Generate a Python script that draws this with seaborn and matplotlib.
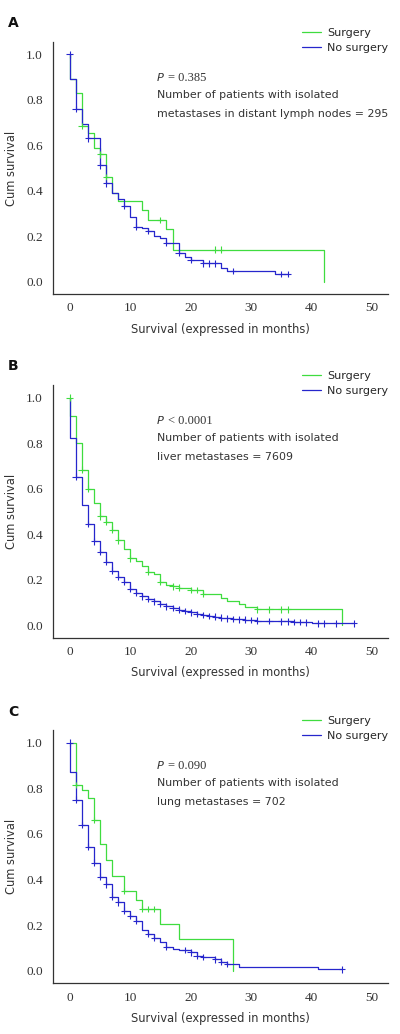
import numpy as np
import pandas as pd
import matplotlib
matplotlib.use("Agg")
import matplotlib.pyplot as plt
import seaborn as sns

# ---------------- data ----------------
panel_letters = ["A", "B", "C"]
groups = ["Surgery", "No surgery"]
p_texts = ["= 0.385", "< 0.0001", "= 0.090"]
n_line1 = ["Number of patients with isolated"] * 3
n_line2 = ["metastases in distant lymph nodes = 295",
           "liver metastases = 7609",
           "lung metastases = 702"]
x_ticks = [0, 10, 20, 30, 40, 50]
y_ticks = [0.0, 0.2, 0.4, 0.6, 0.8, 1.0]

# Panel A
a_surg_t = [0, 1, 2, 3, 4, 5, 6, 7, 8, 12, 13, 16, 17, 42]
a_surg_s = [0.89, 0.83, 0.685, 0.655, 0.59, 0.56, 0.46, 0.39, 0.355, 0.315, 0.27, 0.232, 0.14, 0.0]
a_surg_c = [2, 5, 6, 15, 24, 25]
a_nosu_t = [0, 1, 2, 3, 5, 6, 7, 8, 9, 10, 11, 12, 13, 14, 15, 16, 18, 19, 20, 22, 25, 26, 34]
a_nosu_s = [0.89, 0.76, 0.695, 0.63, 0.512, 0.432, 0.388, 0.362, 0.332, 0.285, 0.242, 0.234, 0.222, 0.2, 0.19, 0.17,
            0.127, 0.11, 0.095, 0.08, 0.06, 0.046, 0.033]
a_nosu_c = [0, 1, 3, 5, 6, 9, 11, 13, 16, 18, 20, 22, 23, 24, 27, 35, 36]

# Panel B
b_surg_t = [0, 1, 2, 3, 4, 5, 6, 7, 8, 9, 10, 11, 12, 13, 14, 15, 16, 17, 18, 20, 22, 25, 26, 28, 29, 31, 45]
b_surg_s = [0.92, 0.80, 0.683, 0.60, 0.535, 0.478, 0.455, 0.42, 0.373, 0.335, 0.293, 0.283, 0.26, 0.235, 0.225,
            0.19, 0.175, 0.17, 0.165, 0.155, 0.138, 0.118, 0.106, 0.095, 0.078, 0.07, 0.0]
b_surg_c = [0, 2, 3, 5, 6, 7, 8, 10, 13, 15, 17, 18, 20, 21, 22, 31, 33, 35, 36]
b_nosu_t = [0, 1, 2, 3, 4, 5, 6, 7, 8, 9, 10, 11, 12, 13, 14, 15, 16, 17, 18, 19, 20, 21, 22, 23, 24, 25, 26,
            27, 28, 29, 30, 31, 33, 35, 37, 39, 40]
b_nosu_s = [0.822, 0.652, 0.53, 0.444, 0.368, 0.321, 0.277, 0.24, 0.212, 0.19, 0.16, 0.142, 0.126, 0.115, 0.105,
            0.092, 0.083, 0.076, 0.068, 0.062, 0.056, 0.05, 0.045, 0.04, 0.037, 0.033, 0.03, 0.027, 0.025, 0.024,
            0.022, 0.02, 0.019, 0.017, 0.015, 0.012, 0.008]
b_nosu_c = [1, 3, 4, 5, 6, 7, 8, 9, 10, 11, 12, 13, 14, 15, 16, 17, 18, 19, 20, 21, 22, 23, 24, 25, 26, 27, 28,
            29, 30, 31, 33, 35, 36, 37, 38, 39, 41, 42, 44, 47]

# Panel C
c_surg_t = [1, 2, 3, 4, 5, 6, 7, 9, 11, 12, 15, 18, 27]
c_surg_s = [0.815, 0.79, 0.757, 0.66, 0.555, 0.485, 0.415, 0.35, 0.31, 0.27, 0.205, 0.137, 0.0]
c_surg_c = [1, 4, 9, 12, 13, 14]
c_nosu_t = [0, 1, 2, 3, 4, 5, 6, 7, 8, 9, 10, 11, 12, 13, 14, 15, 16, 17, 18, 20, 21, 22, 24, 25, 26, 28, 35, 41]
c_nosu_s = [0.87, 0.75, 0.638, 0.544, 0.474, 0.412, 0.379, 0.325, 0.30, 0.263, 0.24, 0.22, 0.18, 0.16, 0.145,
            0.125, 0.105, 0.095, 0.09, 0.08, 0.066, 0.06, 0.05, 0.04, 0.03, 0.018, 0.015, 0.006]
c_nosu_c = [0, 1, 2, 3, 4, 5, 6, 7, 8, 9, 10, 11, 13, 14, 16, 19, 20, 21, 22, 24, 25, 26, 45]

panels = [
    ((a_surg_t, a_surg_s, a_surg_c), (a_nosu_t, a_nosu_s, a_nosu_c)),
    ((b_surg_t, b_surg_s, b_surg_c), (b_nosu_t, b_nosu_s, b_nosu_c)),
    ((c_surg_t, c_surg_s, c_surg_c), (c_nosu_t, c_nosu_s, c_nosu_c)),
]

colors = {"Surgery": "#3fdc3f", "No surgery": "#2626cc"}


def surv_at(t, times, levels):
    times = np.asarray(times)
    levels = np.asarray(levels)
    if t == 0:
        idx = np.searchsorted(times, t, side="left")
    else:
        idx = np.searchsorted(times, t, side="right")
    return 1.0 if idx == 0 else levels[idx - 1]


def build_frames(group_data):
    lines, marks = [], []
    for name, (t, s, c) in zip(groups, group_data):
        end = max(max(t), max(c))
        xs = [0] + list(t) + [end]
        ys = [1.0] + list(s) + [s[-1]]
        lines.append(pd.DataFrame({"t": xs, "s": ys, "group": name}))
        marks.append(pd.DataFrame({"t": c, "s": [surv_at(v, t, s) for v in c], "group": name}))
    return pd.concat(lines, ignore_index=True), pd.concat(marks, ignore_index=True)


# ---------------- figure ----------------
sns.set_theme(style="white")
plt.rcParams["font.family"] = ["DejaVu Sans"]

fig = plt.figure(figsize=(4.0, 10.34), dpi=100)
W, H = 400, 1034
boxes = [(52.7, 42, 388, 294), (52.7, 385, 388, 637.7), (52.7, 730, 388, 983.3)]
letter_y = [23, 366, 712]

serif = "Liberation Serif"
for i, (box, gdata) in enumerate(zip(boxes, panels)):
    l, t, r, b = box
    ax = fig.add_axes([l / W, 1 - b / H, (r - l) / W, (b - t) / H])
    lines_df, marks_df = build_frames(gdata)
    sns.lineplot(data=lines_df, x="t", y="s", hue="group", hue_order=groups, palette=colors,
                 estimator=None, sort=False, drawstyle="steps-post", linewidth=0.9, ax=ax, legend=False)
    sns.scatterplot(data=marks_df, x="t", y="s", hue="group", hue_order=groups, palette=colors,
                    marker="+", s=22, linewidth=0.8, ax=ax, legend=False, zorder=3)
    ax.set_xlim(-2.8, 52.6)
    ax.set_ylim(-0.055, 1.055)
    ax.set_xticks(x_ticks)
    ax.set_yticks(y_ticks)
    ax.set_xticklabels([str(v) for v in x_ticks], family=serif, fontsize=9.5, color="#333333")
    ax.set_yticklabels([f"{v:.1f}" for v in y_ticks], family=serif, fontsize=9.5, color="#333333")
    ax.tick_params(axis="both", direction="in", length=4, width=0.8, color="#333333")
    ax.tick_params(axis="x", pad=6)
    ax.tick_params(axis="y", pad=7)
    for side in ["top", "right"]:
        ax.spines[side].set_visible(False)
    for side in ["left", "bottom"]:
        ax.spines[side].set_color("#333333")
        ax.spines[side].set_linewidth(0.9)
    ax.set_xlabel("Survival (expressed in months)", fontsize=8.3, color="#333333", labelpad=6)
    ax.set_ylabel("Cum survival", fontsize=8.3, color="#333333", labelpad=6)

    handles = ax.get_lines()[:2]
    ax.legend(handles, groups, loc="upper left", bbox_to_anchor=(0.72, 1.085), frameon=False,
              fontsize=8, handlelength=1.7, handletextpad=0.6, labelspacing=0.45, borderpad=0.2)

    ax.text(0.311, 0.856, "P", transform=ax.transAxes, fontsize=8.2, style="italic",
            ha="left", va="center", color="#333333")
    ax.text(0.343, 0.856, p_texts[i], transform=ax.transAxes, fontsize=9, family=serif,
            ha="left", va="center", color="#333333")
    ax.text(0.311, 0.789, n_line1[i], transform=ax.transAxes, fontsize=7.95,
            ha="left", va="center", color="#333333")
    ax.text(0.311, 0.715, n_line2[i], transform=ax.transAxes, fontsize=7.95,
            ha="left", va="center", color="#333333")

    fig.text(13 / W, 1 - letter_y[i] / H, panel_letters[i], fontsize=10, fontweight="bold",
             ha="center", va="center", color="#111111")

fig.savefig("out.png", dpi=100)
